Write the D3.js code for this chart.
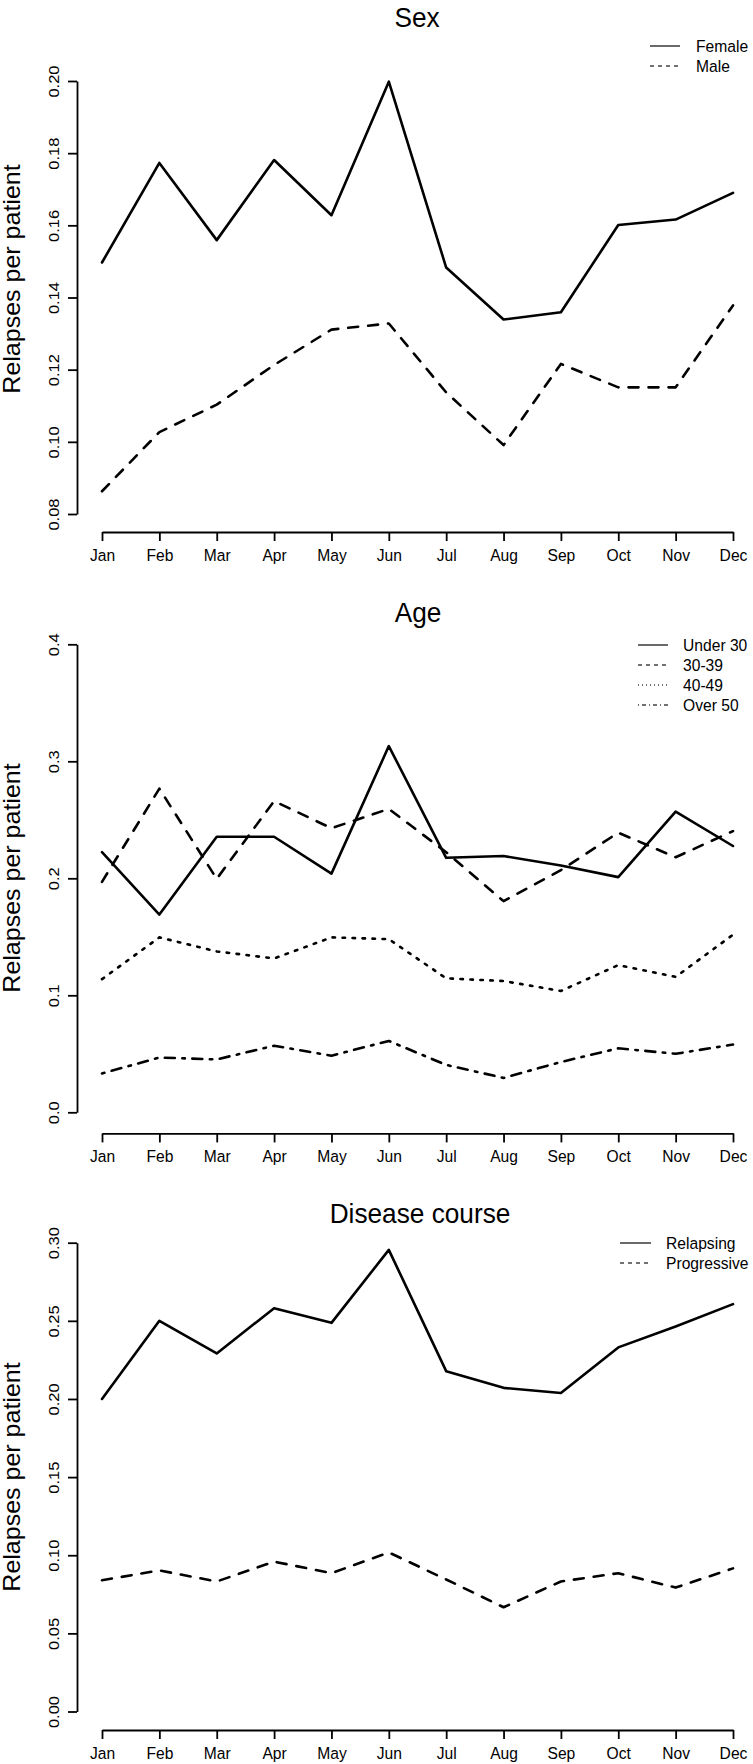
<!DOCTYPE html>
<html>
<head>
<meta charset="utf-8">
<script src="https://cdn.jsdelivr.net/npm/d3@7"></script>
<style>
  body { margin: 0; background: #fff; }
  svg { display: block; background: #fff; }
  text { font-family: "Liberation Sans", Arial, Helvetica, sans-serif; fill: #000; }
</style>
</head>
<body>
<svg id="chart" width="753" height="1764"></svg>
<script>
// ---------------- DATA ----------------
const months = ["Jan","Feb","Mar","Apr","May","Jun","Jul","Aug","Sep","Oct","Nov","Dec"];

// Panel 1: Sex
const sexTitle = "Sex";
const sexLabels = ["Female", "Male"];
const sexFemale = [0.1497, 0.1773, 0.1559, 0.1781, 0.1628, 0.1998, 0.1483, 0.1339, 0.1359, 0.1601, 0.1616, 0.1690];
const sexMale   = [0.0863, 0.1027, 0.1103, 0.1213, 0.1311, 0.1328, 0.1137, 0.0991, 0.1216, 0.1151, 0.1151, 0.1378];
const sexTicks  = [0.08, 0.10, 0.12, 0.14, 0.16, 0.18, 0.20];
const sexTickLabels = ["0.08", "0.10", "0.12", "0.14", "0.16", "0.18", "0.20"];

// Panel 2: Age
const ageTitle = "Age";
const ageLabels = ["Under 30", "30-39", "40-49", "Over 50"];
const ageUnder30 = [0.2223, 0.1690, 0.2355, 0.2355, 0.2040, 0.3130, 0.2175, 0.2190, 0.2110, 0.2010, 0.2570, 0.2276];
const age30to39  = [0.1970, 0.2766, 0.1995, 0.2660, 0.2428, 0.2593, 0.2223, 0.1805, 0.2070, 0.2390, 0.2180, 0.2403];
const age40to49  = [0.1138, 0.1495, 0.1375, 0.1315, 0.1495, 0.1480, 0.1145, 0.1122, 0.1037, 0.1258, 0.1157, 0.1518];
const ageOver50  = [0.0332, 0.0468, 0.0452, 0.0569, 0.0484, 0.0610, 0.0405, 0.0294, 0.0430, 0.0547, 0.0500, 0.0579];
const ageTicks   = [0.0, 0.1, 0.2, 0.3, 0.4];
const ageTickLabels = ["0.0", "0.1", "0.2", "0.3", "0.4"];

// Panel 3: Disease course
const courseTitle = "Disease course";
const courseLabels = ["Relapsing", "Progressive"];
const courseRelapsing   = [0.2000, 0.2500, 0.2291, 0.2581, 0.2487, 0.2954, 0.2178, 0.2071, 0.2038, 0.2330, 0.2464, 0.2607];
const courseProgressive = [0.0840, 0.0903, 0.0832, 0.0959, 0.0885, 0.1018, 0.0845, 0.0667, 0.0832, 0.0885, 0.0793, 0.0916];
const courseTicks = [0.00, 0.05, 0.10, 0.15, 0.20, 0.25, 0.30];
const courseTickLabels = ["0.00", "0.05", "0.10", "0.15", "0.20", "0.25", "0.30"];

const yAxisTitle = "Relapses per patient";

// ---------------- STYLE / LAYOUT ----------------
const SQ = 0.92;               // horizontal squeeze of text (matches reference)
const LW = 2.6;                // data line width
const dashMain = [null, "10,10", "2.5,7.5", "2.5,7.5,10,7.5"];
const dashLegend = [null, "4,4", "1,3", "1,3,4,3"];
const xLeft = 102, xRight = 733, yAxisX = 77;

const panels = [
  { title: sexTitle, labels: sexLabels, series: [sexFemale, sexMale],
    ticks: sexTicks, tickLabels: sexTickLabels,
    yTop: 81, yBot: 514, xAxisY: 532, titleY: 27, titleX: 417, ylabY: 279,
    leg: { y0: 46, step: 20, x1: 650, x2: 680, tx: 696 } },
  { title: ageTitle, labels: ageLabels, series: [ageUnder30, age30to39, age40to49, ageOver50],
    ticks: ageTicks, tickLabels: ageTickLabels,
    yTop: 644.3, yBot: 1112.3, xAxisY: 1133.4, titleY: 622, titleX: 418, ylabY: 878,
    leg: { y0: 645, step: 20, x1: 638, x2: 668, tx: 683 } },
  { title: courseTitle, labels: courseLabels, series: [courseRelapsing, courseProgressive],
    ticks: courseTicks, tickLabels: courseTickLabels,
    yTop: 1242.7, yBot: 1711.5, xAxisY: 1730, titleY: 1223, titleX: 420, ylabY: 1477,
    leg: { y0: 1243, step: 20, x1: 620, x2: 651, tx: 666 } }
];

const svg = d3.select("#chart");
const x = d3.scalePoint().domain(months).range([xLeft, xRight]).padding(0);

panels.forEach(p => {
  const g = svg.append("g");
  const y = d3.scaleLinear()
    .domain([d3.min(p.ticks), d3.max(p.ticks)])
    .range([p.yBot, p.yTop]);

  // Y axis
  const ya = g.append("g")
    .attr("transform", `translate(${yAxisX},0)`)
    .call(d3.axisLeft(y).tickValues(p.ticks)
      .tickFormat((d, i) => p.tickLabels[i])
      .tickSize(9).tickSizeOuter(0));
  ya.selectAll("path.domain, line").attr("stroke", "#000").attr("stroke-width", 1.8);
  ya.selectAll("text")
    .attr("x", null).attr("y", null).attr("dy", null)
    .attr("text-anchor", "middle")
    .attr("transform", `translate(-18,0) scale(${SQ},1) rotate(-90)`)
    .style("font-size", "16.5px");
  ya.attr("font-family", null).attr("font-size", null);

  // X axis
  const xa = g.append("g")
    .attr("transform", `translate(0,${p.xAxisY})`)
    .call(d3.axisBottom(x).tickSize(9).tickSizeOuter(0));
  xa.selectAll("path.domain, line").attr("stroke", "#000").attr("stroke-width", 1.8);
  xa.selectAll("text")
    .attr("y", null).attr("dy", null)
    .attr("text-anchor", "middle")
    .attr("transform", `translate(0,28.5) scale(${SQ},1)`)
    .style("font-size", "17px");
  xa.attr("font-family", null).attr("font-size", null);

  // Lines
  const line = d3.line().x((d, i) => x(months[i])).y(d => y(d));
  p.series.forEach((s, k) => {
    g.append("path")
      .datum(s)
      .attr("d", line)
      .attr("fill", "none")
      .attr("stroke", "#000")
      .attr("stroke-width", LW)
      .attr("stroke-linecap", "round")
      .attr("stroke-linejoin", "round")
      .attr("stroke-dasharray", dashMain[k]);
  });

  // Title
  g.append("text")
    .attr("transform", `translate(${p.titleX},${p.titleY}) scale(${SQ},1)`)
    .attr("text-anchor", "middle")
    .style("font-size", "28.5px")
    .text(p.title);

  // Y axis title
  g.append("text")
    .attr("transform", `translate(20,${p.ylabY}) scale(${SQ},1) rotate(-90)`)
    .attr("text-anchor", "middle")
    .style("font-size", "25px")
    .text(yAxisTitle);

  // Legend
  p.labels.forEach((lab, k) => {
    const ly = p.leg.y0 + k * p.leg.step;
    g.append("line")
      .attr("x1", p.leg.x1).attr("x2", p.leg.x2)
      .attr("y1", ly).attr("y2", ly)
      .attr("stroke", "#444")
      .attr("stroke-width", 1.6)
      .attr("stroke-dasharray", dashLegend[k]);
    g.append("text")
      .attr("transform", `translate(${p.leg.tx},${ly}) scale(${SQ},1)`)
      .attr("dy", "0.36em")
      .style("font-size", "17px")
      .text(lab);
  });
});
</script>
</body>
</html>
